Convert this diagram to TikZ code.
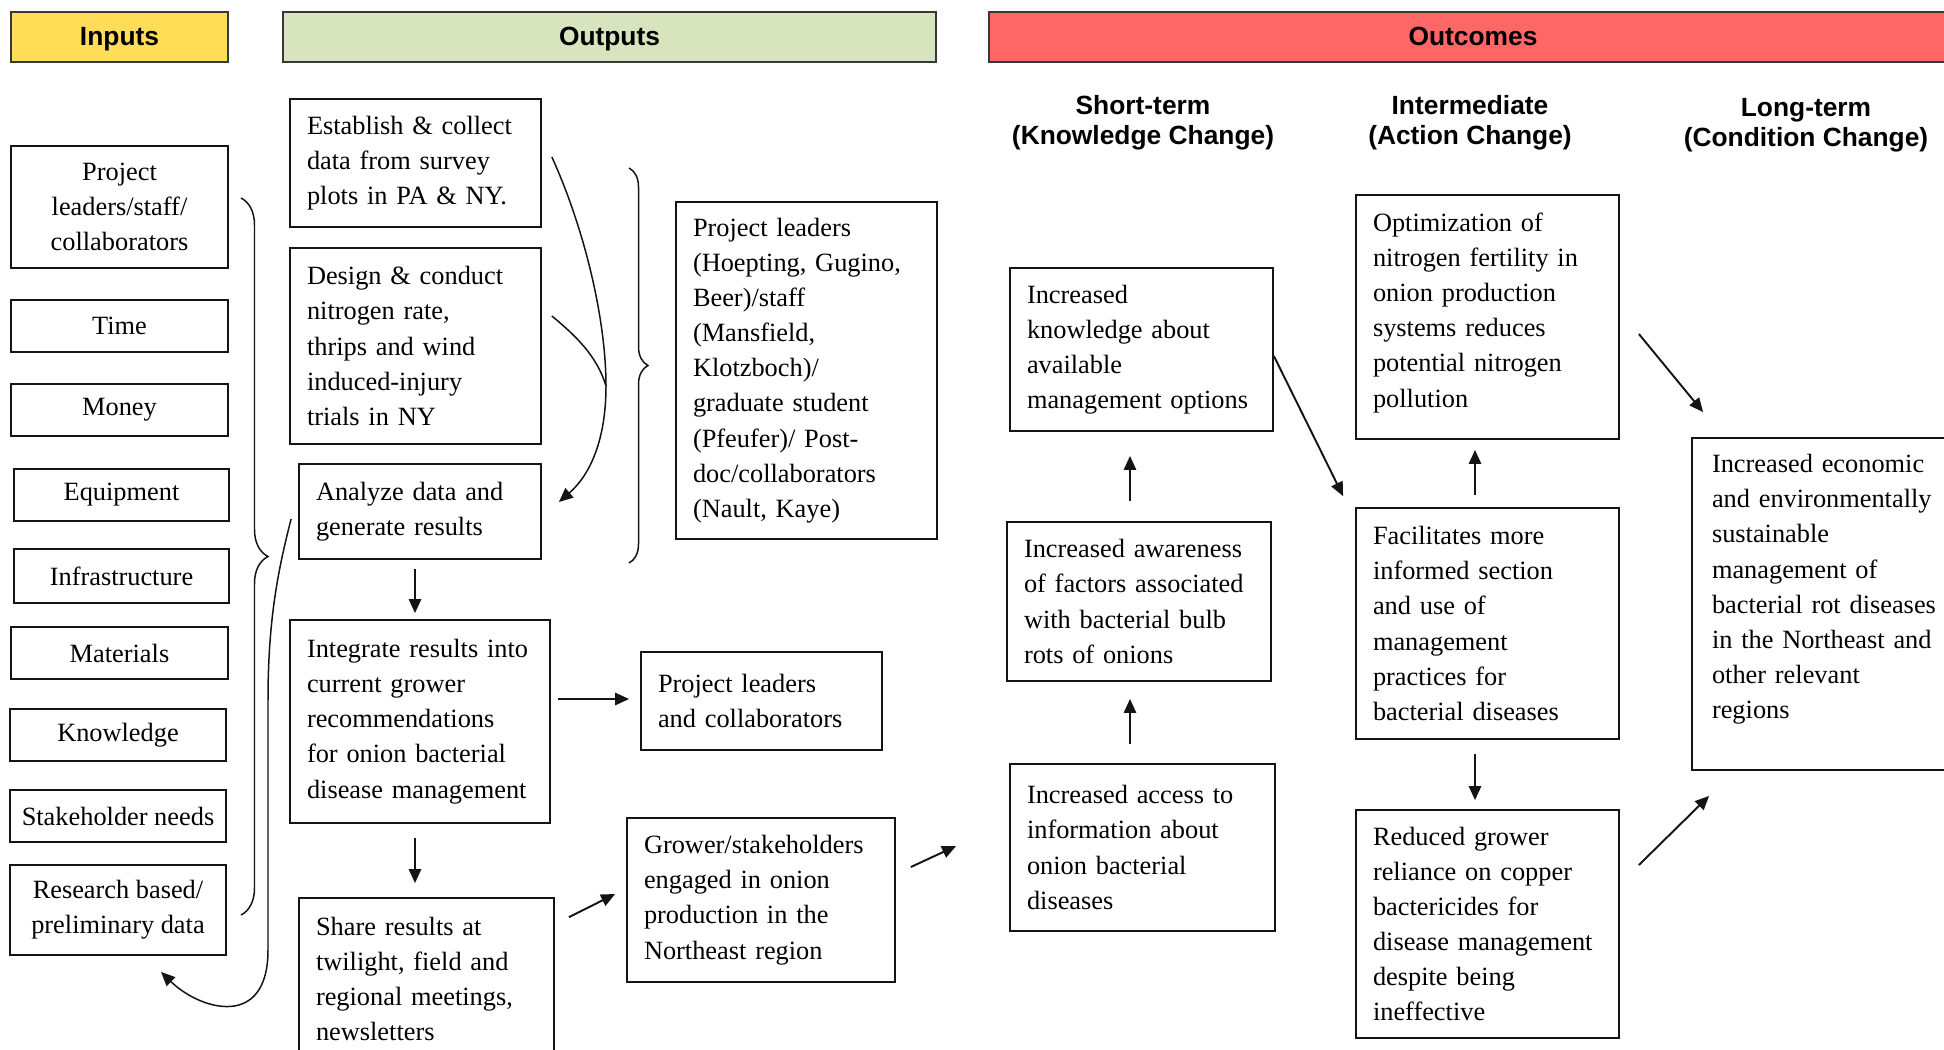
\documentclass[tikz,border=0pt]{standalone}
\usepackage{fontspec}
\setmainfont{Liberation Serif}
\setsansfont{Liberation Sans}
\usetikzlibrary{arrows.meta, calc, decorations.pathreplacing}
\definecolor{incol}{RGB}{255, 221, 87}
\definecolor{outcol}{RGB}{215, 228, 189}
\definecolor{occol}{RGB}{255, 102, 102}
\definecolor{linecol}{RGB}{20, 20, 20}
\newlength\px
\setlength\px{0.02cm}
\newcommand\bodyfont{\fontsize{15}{20}\selectfont}
\tikzset{
  head/.style    = {draw=linecol!85, line width=0.9pt, inner sep=0pt,
                    font=\sffamily\bfseries\bodyfont, minimum height=50\px,
                    text height=10pt, text depth=0pt},
  colhead/.style = {align=center, inner sep=0pt,
                    font=\sffamily\bfseries\fontsize{15}{17}\selectfont},
  blk/.style     = {draw=linecol, line width=1pt, inner sep=0pt,
                    font=\bodyfont},
  inbox/.style   = {blk, align=center},
  txtbox/.style  = {blk, align=left},
  flow/.style    = {-{Triangle[length=8pt, width=7pt]}, draw=linecol,
                    line width=1.1pt},
  curv/.style    = {draw=linecol, line width=0.85pt},
  brc/.style     = {draw=linecol, line width=0.85pt, decorate,
                    decoration={brace, amplitude=#1\px}},
}

\begin{document}
\begin{tikzpicture}[x=0.02cm, y=-0.02cm]
  \useasboundingbox (0,0) rectangle (1944,1049);

  %% ---------------- the three headers ----------------
  \node[head, fill=incol, minimum width=217\px] (hin) at (119.5,37) {Inputs};
  \node[head, fill=outcol, minimum width=653\px] (hout) at (609.5,37) {Outputs};
  \node[head, fill=occol, minimum width=968\px] (hoc) at (1473,37) {Outcomes};

  \node[colhead] (short) at (1143,123) {Short-term\\(Knowledge Change)};
  \node[colhead] (inter) at (1470,123) {Intermediate\\(Action Change)};
  \node[colhead] (long)  at (1806,125) {Long-term\\(Condition Change)};

  %% ---------------- inputs ----------------
  \node[inbox, minimum width=217\px, minimum height=122\px] (lead)
       at (119.5,207) {Project\\leaders/staff/\\collaborators};
  \foreach \nm/\cx/\cy/\w/\h/\txt in {time/119.5/326/217/52/Time,
        money/119.5/410/217/52/Money, equip/121.5/495/215/52/Equipment,
        infra/121.5/576/215/54/Infrastructure, mater/119.5/653/217/52/Materials,
        knowl/118/735/216/52/Knowledge, stake/118/816/216/52/Stakeholder needs} {
    \node[inbox, minimum width=\w\px, minimum height=\h\px] (\nm)
         at (\cx,\cy) {\txt};
  }
  \node[inbox, minimum width=216\px, minimum height=90\px] (res)
       at (118,910) {Research based/\\preliminary data};

  \draw[brc=27] (241,198) -- (241,915);

  %% ---------------- outputs ----------------
  \node[txtbox, minimum width=251\px, minimum height=128\px, text width=217\px]
       (est) at (415.5,163) {Establish \& collect\\data from survey\\plots in PA \& NY.};
  \node[txtbox, minimum width=251\px, minimum height=196\px, text width=217\px]
       (des) at (415.5,346) {Design \& conduct\\nitrogen rate,\\thrips and wind\\induced-injury\\trials in NY};
  \node[txtbox, minimum width=242\px, minimum height=95\px, text width=208\px]
       (ana) at (420,511.5) {Analyze data and\\generate results};
  \node[txtbox, minimum width=260\px, minimum height=203\px, text width=226\px]
       (integ) at (420,721.5) {Integrate results into\\current grower\\recommendations\\for onion bacterial\\disease management};
  \node[txtbox, minimum width=255\px, minimum height=162\px, text width=221\px]
       (share) at (426.5,979) {Share results at\\twilight, field and\\regional meetings,\\newsletters};

  \node[txtbox, minimum width=261\px, minimum height=337\px, text width=227\px]
       (team) at (806.5,370.5) {Project leaders\\(Hoepting, Gugino,\\Beer)/staff\\(Mansfield,\\Klotzboch)/\\graduate student\\(Pfeufer)/ Post-\\doc/collaborators\\(Nault, Kaye)};
  \node[txtbox, minimum width=241\px, minimum height=98\px, text width=207\px]
       (plc) at (761.5,701) {Project leaders\\and collaborators};
  \node[txtbox, minimum width=268\px, minimum height=164\px, text width=234\px]
       (grow) at (761,900) {Grower/stakeholders\\engaged in onion\\production in the\\Northeast region};

  \draw[brc=19] (629,168) -- (629,563);

  % the two trials run into the analysis
  \draw[curv, -{Triangle[length=8pt, width=7pt]}] ($(est.east)+(10,-6)$)
       .. controls (585,230) and (606,320) .. (606,386) coordinate (join)
       .. controls (606,440) and (590,475) .. ($(ana.east)+(17,-9.5)$);
  \draw[curv] ($(des.east)+(10,-30)$) .. controls (576,336) and (597,356) .. (join);

  % results go back to the inputs
  \draw[curv, -{Triangle[length=8pt, width=7pt]}] ($(ana.west)+(-7,7.5)$)
       .. controls (278,570) and (268,620) .. (268,700) -- (268,950)
       .. controls (268,1030) and (200,1010) .. ($(res.south)+(43,16)$);

  \draw[flow] ($(ana.south)+(-5,9)$) -- ($(integ.north)+(-5,-6)$);
  \draw[flow] ($(integ.south)+(-5,14)$) -- ($(share.north)+(-11.5,-14)$);
  \draw[flow] ($(integ.east)+(7,-22.5)$) -- ($(plc.west)+(-11,-2)$);
  \draw[flow] ($(share.north east)+(14,20)$) -- ($(grow.west)+(-11,-6)$);

  %% ---------------- outcomes ----------------
  \node[txtbox, minimum width=263\px, minimum height=163\px, text width=229\px]
       (kn) at (1141.5,349.5) {Increased\\knowledge about\\available\\management options};
  \node[txtbox, minimum width=264\px, minimum height=159\px, text width=230\px]
       (aw) at (1139,601.5) {Increased awareness\\of factors associated\\with bacterial bulb\\rots of onions};
  \node[txtbox, minimum width=265\px, minimum height=167\px, text width=231\px]
       (acc) at (1142.5,847.5) {Increased access to\\information about\\onion bacterial\\diseases};

  \node[txtbox, minimum width=263\px, minimum height=244\px, text width=229\px]
       (opt) at (1487.5,317) {Optimization of\\nitrogen fertility in\\onion production\\systems reduces\\potential nitrogen\\pollution\\[-12pt]\mbox{}};
  \node[txtbox, minimum width=263\px, minimum height=231\px, text width=229\px]
       (fac) at (1487.5,623.5) {Facilitates more\\informed section\\and use of\\management\\practices for\\bacterial diseases};
  \node[txtbox, minimum width=263\px, minimum height=228\px, text width=229\px]
       (red) at (1487.5,924) {Reduced grower\\reliance on copper\\bactericides for\\disease management\\despite being\\ineffective};

  \node[txtbox, minimum width=278\px, minimum height=332\px, text width=238\px]
       (econ) at (1831,604) {Increased economic\\and environmentally\\sustainable\\management of\\bacterial rot diseases\\in the Northeast and\\other relevant\\regions\\ \mbox{}};

  \draw[flow] ($(grow.east)+(15,-33)$) -- ($(acc.west)+(-53,-1.5)$);
  \draw[flow] ($(acc.north)+(-12.5,-19)$) -- ($(aw.south)+(-9,17)$);
  \draw[flow] ($(aw.north)+(-9,-20)$) -- ($(kn.south)+(-11.5,24)$);
  \draw[flow] ($(kn.east)+(0,6.5)$) -- ($(fac.north west)+(-12,-11)$);
  \draw[flow] ($(fac.north)+(-12.5,-12)$) -- ($(opt.south)+(-12.5,10)$);
  \draw[flow] ($(fac.south)+(-12.5,14)$) -- ($(red.north)+(-12.5,-9)$);
  \draw[flow] ($(opt.east)+(19,17)$) -- ($(econ.north west)+(12,-25)$);
  \draw[flow] ($(red.east)+(19,-59)$) -- ($(econ.south west)+(18,25)$);

\end{tikzpicture}
\end{document}
